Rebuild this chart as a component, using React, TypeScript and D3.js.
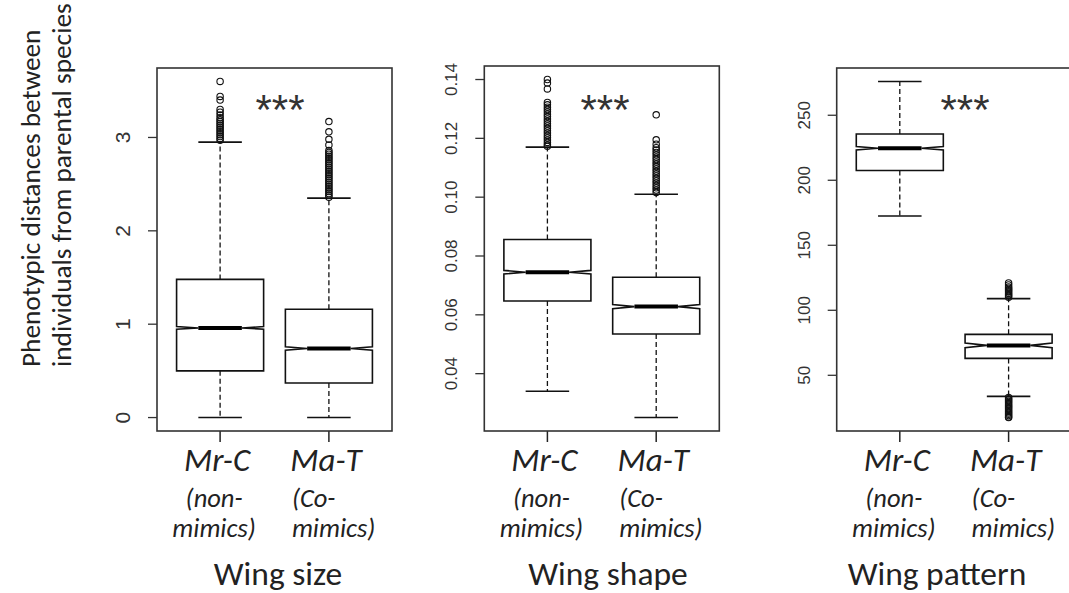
import React, { useEffect, useRef } from 'react'
import * as d3 from 'd3'

// groups and traits
const groups = ['Mr-C', 'Ma-T']
const groupNotes = [['(non-', 'mimics)'], ['(Co-', 'mimics)']]
const traits = ['Wing size', 'Wing shape', 'Wing pattern']

// box stats per group: [lower whisker, q1, median, q3, upper whisker]
const sizeStats = [[0, 0.50, 0.96, 1.48, 2.95], [0, 0.37, 0.74, 1.16, 2.35]]
const shapeStats = [[0.034, 0.0647, 0.0745, 0.0856, 0.117], [0.0251, 0.0535, 0.0628, 0.0728, 0.101]]
const patternStats = [[172.5, 207.5, 224.6, 235.6, 276], [33.8, 63, 73, 81.5, 109]]

// notch half heights (data units)
const sizeNotch = [0.014, 0.018]
const shapeNotch = [0.0006, 0.0007]
const patternNotch = [1.3, 1.8]

// outliers per group
const sizeOutliers = [
  [3.6, 3.44, 3.4, 3.3, 3.27, 3.24, 3.21, 3.19, 3.17, 3.15, 3.13, 3.11, 3.09, 3.07, 3.05, 3.03, 3.01, 2.99, 2.97],
  [3.17, 3.06, 2.98, 2.92, 2.86, 2.84, 2.82, 2.8, 2.78, 2.76, 2.74, 2.72, 2.7, 2.68, 2.66, 2.64, 2.62, 2.6, 2.58,
    2.56, 2.54, 2.52, 2.5, 2.48, 2.46, 2.44, 2.42, 2.4, 2.38, 2.36],
]
const shapeOutliers = [
  [0.14, 0.1388, 0.1368, 0.1322, 0.1314, 0.1306, 0.1298, 0.129, 0.1282, 0.1274, 0.1266, 0.1258, 0.125, 0.1242,
    0.1234, 0.1226, 0.1218, 0.121, 0.1202, 0.1194, 0.1186, 0.1178, 0.1173],
  [0.128, 0.1195, 0.118, 0.1168, 0.116, 0.1152, 0.1144, 0.1136, 0.1128, 0.112, 0.1112, 0.1104, 0.1096, 0.1088,
    0.108, 0.1072, 0.1064, 0.1056, 0.1048, 0.104, 0.1032, 0.1024, 0.1016],
]
const patternOutliers = [
  [],
  [121, 119.5, 118, 117, 116, 115, 114, 113, 112, 111, 110,
    33, 32, 31, 30, 29, 28, 27, 26, 25, 24, 23, 22, 21, 20, 19, 18, 17.5],
]

// y ticks
const sizeTicks = [0, 1, 2, 3]
const sizeTickLabels = ['0', '1', '2', '3']
const shapeTicks = [0.04, 0.06, 0.08, 0.10, 0.12, 0.14]
const shapeTickLabels = ['0.04', '0.06', '0.08', '0.10', '0.12', '0.14']
const patternTicks = [50, 100, 150, 200, 250]
const patternTickLabels = ['50', '100', '150', '200', '250']

const signif = ['***', '***', '***']

const yTitle = ['Phenotypic distances between', 'individuals from parental species']

const W = 1069
const H = 593

function App() {
  const ref = useRef<SVGSVGElement | null>(null)

  useEffect(() => {
    const svg = d3.select(ref.current)
    svg.selectAll('*').remove()

    const panels = [
      { stats: sizeStats, notch: sizeNotch, outliers: sizeOutliers, ticks: sizeTicks, labels: sizeTickLabels },
      { stats: shapeStats, notch: shapeNotch, outliers: shapeOutliers, ticks: shapeTicks, labels: shapeTickLabels },
      { stats: patternStats, notch: patternNotch, outliers: patternOutliers, ticks: patternTicks, labels: patternTickLabels },
    ]

    /* layout */
    const frameLeft = [157, 484.3, 836.7]
    const frameTop = [68, 66, 68]
    const frameW = 235
    const frameBottom = 431
    const titleX = [278, 608, 937]
    const starsX = [280, 605, 965]
    const tickFont = [21, 17, 17]
    const textFont = 'Carlito, Lato, sans-serif'

    panels.forEach((p, i) => {
      const g = svg.append('g')

      /* R style scales: x over 0.5..2.5 plus 4% */
      const x = d3.scaleLinear().domain([0.42, 2.58]).range([frameLeft[i], frameLeft[i] + frameW])
      const all = p.stats.flat().concat(p.outliers.flat())
      const [lo, hi] = d3.extent(all) as [number, number]
      const pad = (hi - lo) * 0.04
      const y = d3.scaleLinear().domain([lo - pad, hi + pad]).range([frameBottom, frameTop[i]])

      const wid = (x(1.4) - x(1)) // half box width

      p.stats.forEach((s, j) => {
        const cx = x(j + 1)
        const [wl, q1, med, q3, wu] = s
        const n = p.notch[j]

        // whiskers
        g.append('line')
          .attr('x1', cx).attr('x2', cx).attr('y1', y(q3)).attr('y2', y(wu))
          .attr('stroke', '#111').attr('stroke-width', 1.3).attr('stroke-dasharray', '5,3')
        g.append('line')
          .attr('x1', cx).attr('x2', cx).attr('y1', y(q1)).attr('y2', y(wl))
          .attr('stroke', '#111').attr('stroke-width', 1.3).attr('stroke-dasharray', '5,3')
        // staples
        ;[wl, wu].forEach((v) => {
          g.append('line')
            .attr('x1', cx - wid / 2).attr('x2', cx + wid / 2)
            .attr('y1', y(v)).attr('y2', y(v))
            .attr('stroke', '#111').attr('stroke-width', 1.6)
        })

        // notched box
        const xs = [-1, 1, 1, 0.5, 1, 1, -1, -1, -0.5, -1].map((f) => cx + f * wid)
        const ys = [q1, q1, med - n, med, med + n, q3, q3, med + n, med, med - n].map((v) => y(v))
        const pts = xs.map((xx, k) => [xx, ys[k]] as [number, number])
        g.append('path')
          .attr('d', d3.line()(pts) + 'Z')
          .attr('fill', 'white').attr('stroke', '#111').attr('stroke-width', 1.6)

        // median
        g.append('line')
          .attr('x1', cx - wid / 2).attr('x2', cx + wid / 2)
          .attr('y1', y(med)).attr('y2', y(med))
          .attr('stroke', '#000').attr('stroke-width', 4)

        // outliers
        g.selectAll(null)
          .data(p.outliers[j])
          .enter()
          .append('circle')
          .attr('cx', cx).attr('cy', (d) => y(d)).attr('r', 3.2)
          .attr('fill', 'none').attr('stroke', '#111').attr('stroke-width', 1.1)

        // x tick
        g.append('line')
          .attr('x1', cx).attr('x2', cx).attr('y1', frameBottom).attr('y2', frameBottom + 11)
          .attr('stroke', '#222').attr('stroke-width', 1.5)

        // group labels
        g.append('text')
          .attr('x', cx - 3).attr('y', 471)
          .attr('text-anchor', 'middle')
          .attr('font-family', textFont).attr('font-style', 'italic').attr('font-size', 33)
          .attr('fill', '#222')
          .text(groups[j])

        groupNotes[j].forEach((t, k) => {
          const tx = j === 0 ? cx - 6 : cx - 37
          g.append('text')
            .attr('x', tx).attr('y', 507 + k * 30)
            .attr('text-anchor', j === 0 ? 'middle' : 'start')
            .attr('font-family', textFont).attr('font-style', 'italic').attr('font-size', 26.5)
            .attr('fill', '#222')
            .text(t)
        })
      })

      // frame
      g.append('rect')
        .attr('x', frameLeft[i]).attr('y', frameTop[i])
        .attr('width', frameW).attr('height', frameBottom - frameTop[i])
        .attr('fill', 'none').attr('stroke', '#333').attr('stroke-width', 1.6)

      // y ticks and labels
      p.ticks.forEach((t, k) => {
        g.append('line')
          .attr('x1', frameLeft[i] - 9).attr('x2', frameLeft[i])
          .attr('y1', y(t)).attr('y2', y(t))
          .attr('stroke', '#333').attr('stroke-width', 1.3)
        g.append('text')
          .attr('transform', `translate(${frameLeft[i] - 27},${y(t)}) rotate(-90)`)
          .attr('text-anchor', 'middle')
          .attr('font-family', 'Liberation Sans, Arial, sans-serif').attr('font-size', tickFont[i])
          .attr('fill', '#333')
          .text(p.labels[k])
      })

      // significance
      g.append('text')
        .attr('x', starsX[i]).attr('y', 124)
        .attr('text-anchor', 'middle')
        .attr('font-family', 'Liberation Sans, Arial, sans-serif').attr('font-size', 42)
        .attr('fill', '#333')
        .text(signif[i])

      // trait title
      g.append('text')
        .attr('x', titleX[i]).attr('y', 585)
        .attr('text-anchor', 'middle')
        .attr('font-family', textFont).attr('font-size', 33.5)
        .attr('fill', '#222')
        .text(traits[i])
    })

    // y axis title
    yTitle.forEach((t, k) => {
      svg.append('text')
        .attr('transform', `translate(${40 + k * 31},367) rotate(-90)`)
        .attr('text-anchor', 'start')
        .attr('font-family', textFont).attr('font-size', 27.3)
        .attr('fill', '#222')
        .text(t)
    })
  }, [])

  return (
    <svg
      ref={ref}
      width={W}
      height={H}
      style={{ position: 'absolute', left: 0, top: 0, background: 'white' }}
    />
  )
}

export default App
